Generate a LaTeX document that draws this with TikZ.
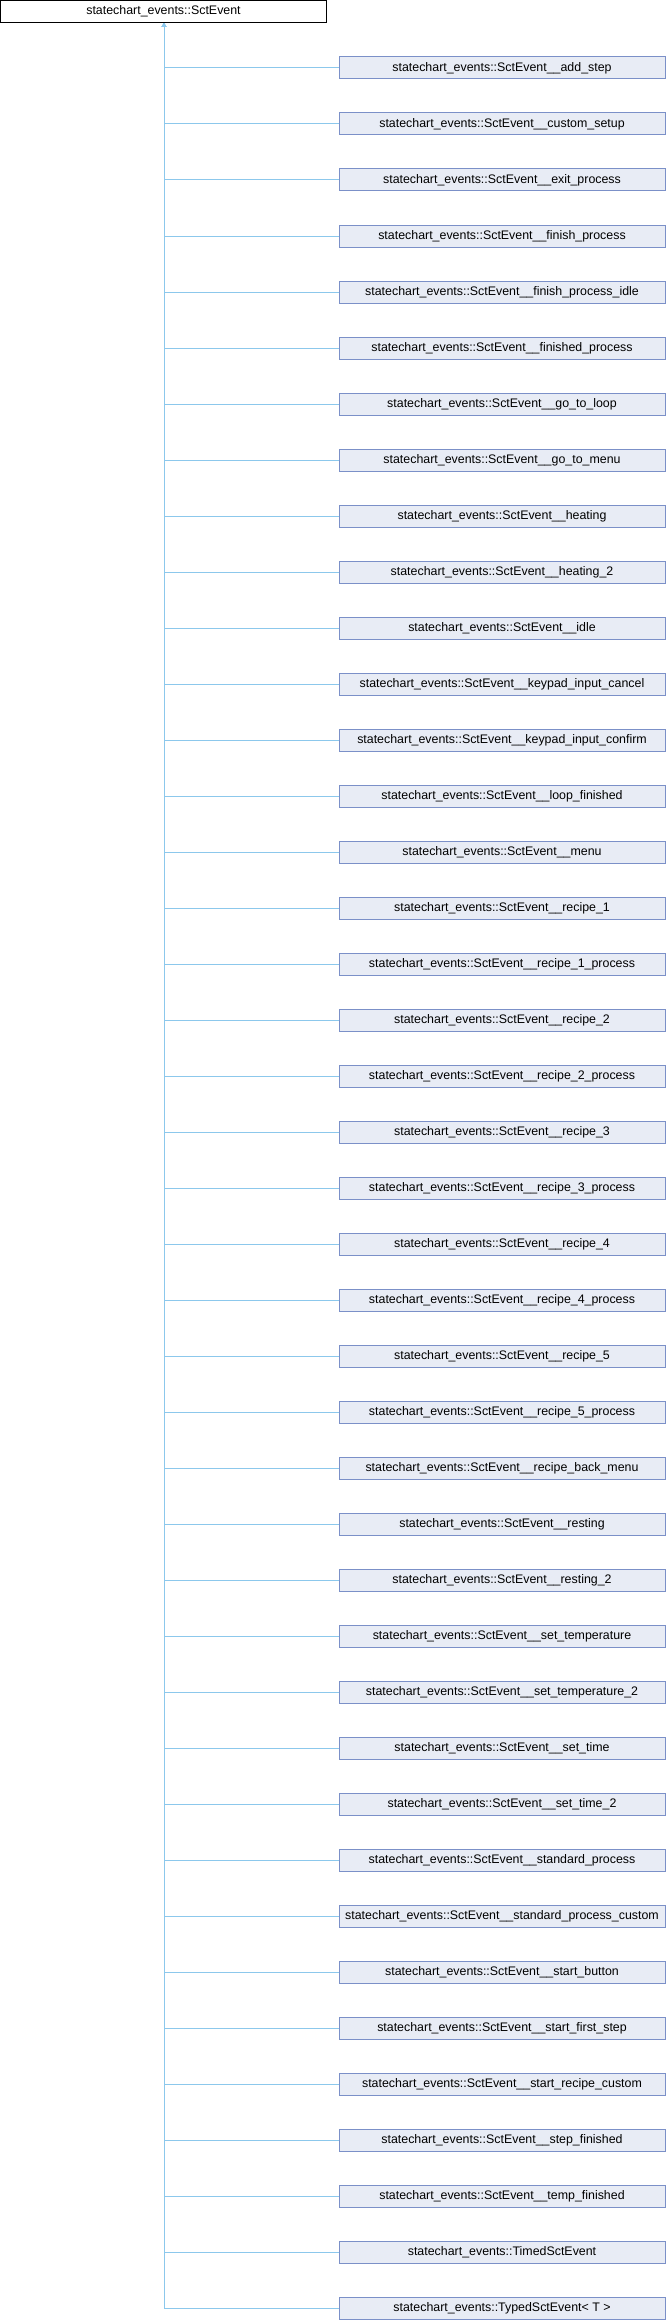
\documentclass[tikz,border=0pt]{standalone}
\usepackage{fontspec}
\setmainfont{Liberation Sans}
\usetikzlibrary{arrows.meta}
\definecolor{edgeblue}{HTML}{8CC8EC}
\definecolor{boxborder}{HTML}{7B90C8}
\definecolor{boxfill}{HTML}{E8ECF5}
\begin{document}
\begin{tikzpicture}[x=1pt,y=1pt,
  basebox/.style={draw=black,fill=white,line width=1pt,minimum width=326pt,minimum height=22pt,inner sep=0pt,font=\fontsize{12.4}{14}\selectfont},
  childbox/.style={draw=boxborder,fill=boxfill,line width=1pt,minimum width=326pt,minimum height=22pt,inner sep=0pt,font=\fontsize{12.4}{14}\selectfont},
  edge/.style={draw=edgeblue,line width=1pt,-{Triangle[width=4pt,length=4pt,fill=edgeblue]}}]
\useasboundingbox (0,0) rectangle (666,-2320);
\node[basebox] (top) at (163.5,-11.5) {statechart\_events::SctEvent};
\coordinate (trunk) at (164,-23);
\foreach \lbl [count=\i] in {
 SctEvent\_\_add\_step,
 SctEvent\_\_custom\_setup,
 SctEvent\_\_exit\_process,
 SctEvent\_\_finish\_process,
 SctEvent\_\_finish\_process\_idle,
 SctEvent\_\_finished\_process,
 SctEvent\_\_go\_to\_loop,
 SctEvent\_\_go\_to\_menu,
 SctEvent\_\_heating,
 SctEvent\_\_heating\_2,
 SctEvent\_\_idle,
 SctEvent\_\_keypad\_input\_cancel,
 SctEvent\_\_keypad\_input\_confirm,
 SctEvent\_\_loop\_finished,
 SctEvent\_\_menu,
 SctEvent\_\_recipe\_1,
 SctEvent\_\_recipe\_1\_process,
 SctEvent\_\_recipe\_2,
 SctEvent\_\_recipe\_2\_process,
 SctEvent\_\_recipe\_3,
 SctEvent\_\_recipe\_3\_process,
 SctEvent\_\_recipe\_4,
 SctEvent\_\_recipe\_4\_process,
 SctEvent\_\_recipe\_5,
 SctEvent\_\_recipe\_5\_process,
 SctEvent\_\_recipe\_back\_menu,
 SctEvent\_\_resting,
 SctEvent\_\_resting\_2,
 SctEvent\_\_set\_temperature,
 SctEvent\_\_set\_temperature\_2,
 SctEvent\_\_set\_time,
 SctEvent\_\_set\_time\_2,
 SctEvent\_\_standard\_process,
 SctEvent\_\_standard\_process\_custom,
 SctEvent\_\_start\_button,
 SctEvent\_\_start\_first\_step,
 SctEvent\_\_start\_recipe\_custom,
 SctEvent\_\_step\_finished,
 SctEvent\_\_temp\_finished,
 TimedSctEvent,
 TypedSctEvent< T >}
{
  \node[childbox] (c\i) at (502,{-68-56*(\i-1)}) {statechart\_events::\lbl};
  \draw[edge] (c\i.west) -| (trunk);
}
\end{tikzpicture}
\end{document}
